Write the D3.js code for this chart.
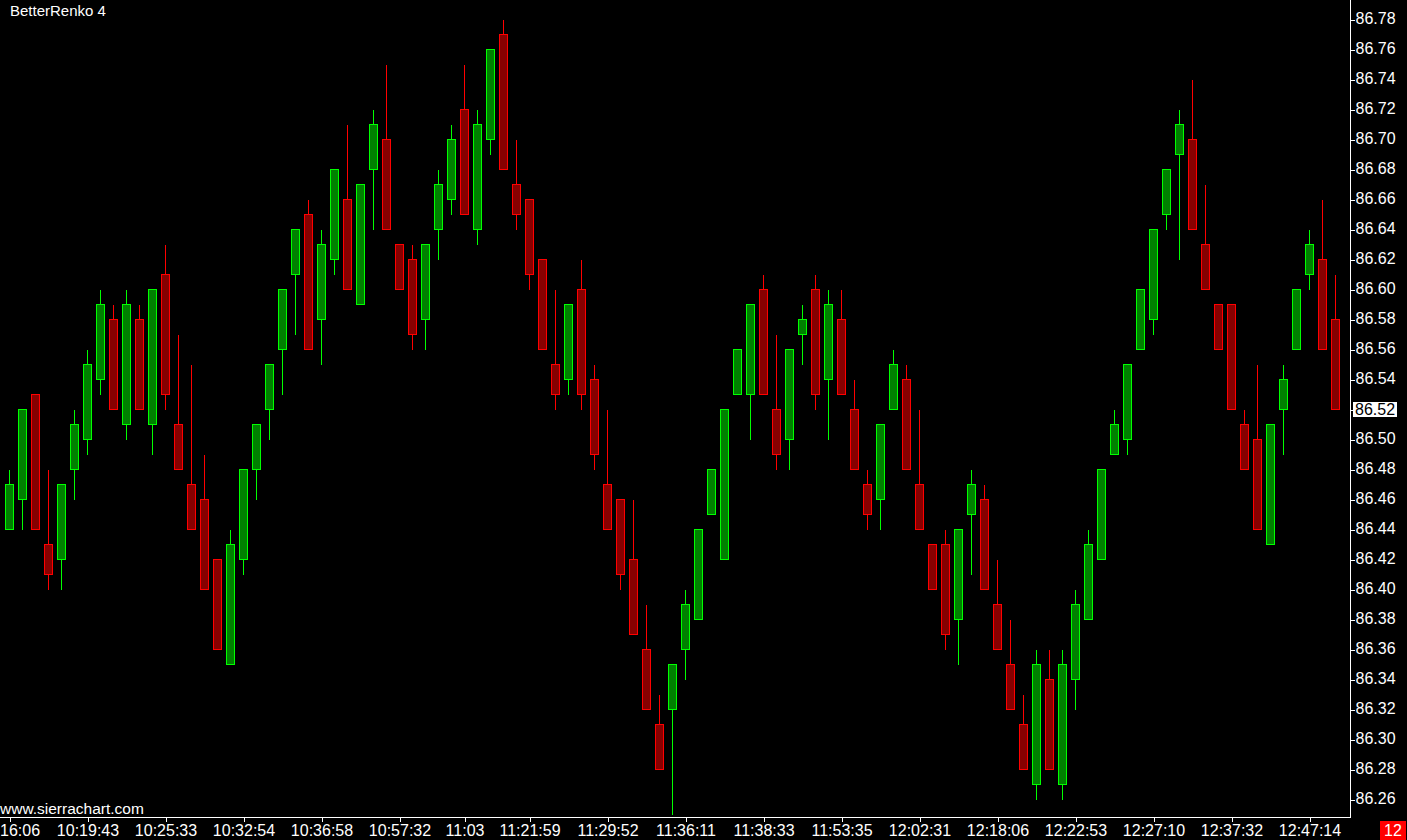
<!DOCTYPE html>
<html>
<head>
<meta charset="utf-8">
<script src="https://cdn.jsdelivr.net/npm/d3@7/dist/d3.min.js"></script>
<style>
  html, body { margin: 0; padding: 0; background: #000; }
  svg { display: block; }
  text { font-family: "Liberation Sans", Arial, sans-serif; }
</style>
</head>
<body>
<svg id="chart" width="1407" height="840"></svg>
<script>
const chartTitle = "BetterRenko 4";
const watermark = "www.sierrachart.com";
const barCounter = "12";

const openPrices = [
  86.44, 86.46, 86.53, 86.43, 86.42, 86.48, 86.50, 86.54, 86.58, 86.51,
  86.58, 86.51, 86.61, 86.51, 86.47, 86.46, 86.42, 86.35, 86.42, 86.48,
  86.52, 86.56, 86.61, 86.65, 86.58, 86.62, 86.66, 86.59, 86.68, 86.70,
  86.63, 86.62, 86.58, 86.64, 86.66, 86.72, 86.64, 86.70, 86.77, 86.67,
  86.66, 86.62, 86.55, 86.54, 86.60, 86.54, 86.47, 86.46, 86.42, 86.36,
  86.31, 86.32, 86.36, 86.38, 86.45, 86.42, 86.53, 86.53, 86.60, 86.52,
  86.50, 86.57, 86.60, 86.54, 86.58, 86.52, 86.47, 86.46, 86.52, 86.54,
  86.47, 86.43, 86.43, 86.38, 86.45, 86.46, 86.39, 86.35, 86.31, 86.27,
  86.34, 86.27, 86.34, 86.38, 86.42, 86.49, 86.50, 86.56, 86.58, 86.65,
  86.69, 86.70, 86.63, 86.59, 86.59, 86.51, 86.50, 86.43, 86.52, 86.56,
  86.61, 86.62, 86.58
];
const highPrices = [
  86.48, 86.52, 86.53, 86.48, 86.47, 86.52, 86.56, 86.60, 86.59, 86.60,
  86.59, 86.60, 86.63, 86.57, 86.55, 86.49, 86.42, 86.44, 86.48, 86.51,
  86.55, 86.60, 86.64, 86.66, 86.64, 86.68, 86.71, 86.67, 86.72, 86.75,
  86.63, 86.63, 86.63, 86.68, 86.71, 86.75, 86.72, 86.76, 86.78, 86.70,
  86.66, 86.62, 86.60, 86.59, 86.62, 86.55, 86.52, 86.46, 86.46, 86.39,
  86.33, 86.35, 86.40, 86.44, 86.48, 86.52, 86.56, 86.59, 86.61, 86.57,
  86.56, 86.59, 86.61, 86.60, 86.60, 86.54, 86.48, 86.51, 86.56, 86.55,
  86.52, 86.43, 86.44, 86.44, 86.48, 86.47, 86.42, 86.38, 86.33, 86.36,
  86.36, 86.36, 86.40, 86.44, 86.48, 86.52, 86.55, 86.60, 86.64, 86.68,
  86.72, 86.74, 86.67, 86.59, 86.59, 86.52, 86.55, 86.51, 86.55, 86.60,
  86.64, 86.66, 86.61
];
const lowPrices = [
  86.44, 86.44, 86.44, 86.40, 86.40, 86.46, 86.49, 86.53, 86.52, 86.50,
  86.52, 86.49, 86.52, 86.48, 86.44, 86.40, 86.36, 86.35, 86.41, 86.46,
  86.50, 86.53, 86.57, 86.56, 86.55, 86.61, 86.60, 86.59, 86.64, 86.64,
  86.60, 86.56, 86.56, 86.62, 86.65, 86.65, 86.63, 86.69, 86.68, 86.64,
  86.60, 86.56, 86.52, 86.53, 86.52, 86.48, 86.44, 86.40, 86.37, 86.32,
  86.28, 86.25, 86.34, 86.38, 86.45, 86.42, 86.53, 86.50, 86.53, 86.48,
  86.48, 86.55, 86.52, 86.50, 86.53, 86.48, 86.44, 86.44, 86.52, 86.48,
  86.44, 86.40, 86.36, 86.35, 86.41, 86.40, 86.36, 86.32, 86.28, 86.26,
  86.28, 86.26, 86.32, 86.38, 86.42, 86.49, 86.49, 86.56, 86.57, 86.64,
  86.62, 86.64, 86.60, 86.56, 86.52, 86.48, 86.44, 86.43, 86.49, 86.56,
  86.60, 86.56, 86.52
];
const closePrices = [
  86.47, 86.52, 86.44, 86.41, 86.47, 86.51, 86.55, 86.59, 86.52, 86.59,
  86.52, 86.60, 86.53, 86.48, 86.44, 86.40, 86.36, 86.43, 86.48, 86.51,
  86.55, 86.60, 86.64, 86.56, 86.63, 86.68, 86.60, 86.67, 86.71, 86.64,
  86.60, 86.57, 86.63, 86.67, 86.70, 86.65, 86.71, 86.76, 86.68, 86.65,
  86.61, 86.56, 86.53, 86.59, 86.53, 86.49, 86.44, 86.41, 86.37, 86.32,
  86.28, 86.35, 86.39, 86.44, 86.48, 86.52, 86.56, 86.59, 86.53, 86.49,
  86.56, 86.58, 86.53, 86.59, 86.53, 86.48, 86.45, 86.51, 86.55, 86.48,
  86.44, 86.40, 86.37, 86.44, 86.47, 86.40, 86.36, 86.32, 86.28, 86.35,
  86.28, 86.35, 86.39, 86.43, 86.48, 86.51, 86.55, 86.60, 86.64, 86.68,
  86.71, 86.64, 86.60, 86.56, 86.52, 86.48, 86.44, 86.51, 86.54, 86.60,
  86.63, 86.56, 86.52
];

const timeTickIndex = [0, 6, 12, 18, 24, 30, 35, 40, 46, 52, 58, 64, 70, 76, 82, 88, 94, 100];
const timeTickLabels = ["16:06", "10:19:43", "10:25:33", "10:32:54", "10:36:58", "10:57:32", "11:03",
  "11:21:59", "11:29:52", "11:36:11", "11:38:33", "11:53:35", "12:02:31", "12:18:06",
  "12:22:53", "12:27:10", "12:37:32", "12:47:14"];
const priceTicks = [86.78, 86.76, 86.74, 86.72, 86.70, 86.68, 86.66, 86.64, 86.62, 86.60,
  86.58, 86.56, 86.54, 86.52, 86.50, 86.48, 86.46, 86.44, 86.42, 86.40,
  86.38, 86.36, 86.34, 86.32, 86.30, 86.28, 86.26];

const bars = openPrices.map((o, i) => ({
  i, o, h: highPrices[i], l: lowPrices[i], c: closePrices[i]
}));
const lastPrice = closePrices[closePrices.length - 1];

const svg = d3.select("#chart");
const W = 1407, H = 840;
const plotRight = 1350.5, plotBottom = 817.5;

svg.append("rect").attr("x", 0).attr("y", 0).attr("width", W).attr("height", H).attr("fill", "#000");

const x = d3.scaleLinear().domain([0, bars.length - 1]).range([9.5, 9.5 + 13 * (bars.length - 1)]);
const y = d3.scaleLinear().domain([86.78, 86.26]).range([19.5, 799.5]);

const bodyW = 8;
const up = d => d.c >= d.o;

const g = svg.append("g");
// wicks
g.selectAll("line.wick").data(bars).join("line")
  .attr("class", "wick")
  .attr("x1", d => x(d.i)).attr("x2", d => x(d.i))
  .attr("y1", d => y(d.h)).attr("y2", d => y(d.l))
  .attr("stroke", d => up(d) ? "#00ff00" : "#ff0000")
  .attr("stroke-width", 1)
  .attr("shape-rendering", "crispEdges");
// bodies
g.selectAll("rect.body").data(bars).join("rect")
  .attr("class", "body")
  .attr("x", d => x(d.i) - bodyW / 2)
  .attr("width", bodyW)
  .attr("y", d => y(Math.max(d.o, d.c)))
  .attr("height", d => Math.max(1, y(Math.min(d.o, d.c)) - y(Math.max(d.o, d.c))))
  .attr("fill", d => up(d) ? "#008000" : "#870000")
  .attr("stroke", d => up(d) ? "#00ff00" : "#ff0000")
  .attr("stroke-width", 1)
  .attr("shape-rendering", "crispEdges");

// axis lines
svg.append("line").attr("x1", plotRight).attr("x2", plotRight).attr("y1", 0).attr("y2", plotBottom)
  .attr("stroke", "#fff").attr("stroke-width", 1).attr("shape-rendering", "crispEdges");
svg.append("line").attr("x1", 0).attr("x2", plotRight).attr("y1", plotBottom).attr("y2", plotBottom)
  .attr("stroke", "#fff").attr("stroke-width", 1).attr("shape-rendering", "crispEdges");

// price axis
const yAxis = d3.axisRight(y).tickValues(priceTicks).tickFormat(d3.format(".2f")).tickSize(4).tickPadding(1);
const ya = svg.append("g").attr("transform", `translate(${plotRight},0)`).call(yAxis);
ya.select(".domain").remove();
ya.selectAll(".tick line").attr("stroke", "#fff").attr("shape-rendering", "crispEdges");
ya.selectAll(".tick text").attr("fill", "#fff").attr("font-size", 16)
  .attr("font-family", "'Liberation Sans', Arial, sans-serif").attr("dy", "0.24em");

// current price marker
const cp = svg.append("g").attr("transform", `translate(0,${y(lastPrice)})`);
cp.append("rect").attr("x", 1353).attr("y", -7.5).attr("width", 44).attr("height", 15).attr("fill", "#fff");
cp.append("text").attr("x", 1355).attr("y", 5.5).attr("fill", "#000").attr("font-size", 16)
  .text(d3.format(".2f")(lastPrice));

// time axis
const xAxis = d3.axisBottom(x).tickValues(timeTickIndex)
  .tickFormat((d, k) => timeTickLabels[k]).tickSize(4).tickPadding(3);
const xa = svg.append("g").attr("transform", `translate(0,${plotBottom})`).call(xAxis);
xa.select(".domain").remove();
xa.selectAll(".tick line").attr("stroke", "#fff").attr("shape-rendering", "crispEdges");
xa.selectAll(".tick text").attr("fill", "#fff").attr("font-size", 16)
  .attr("font-family", "'Liberation Sans', Arial, sans-serif");
// keep first label inside the window
xa.selectAll(".tick text").each(function() {
  const t = d3.select(this);
  const bb = this.getBBox();
  const tx = x(0);
  const parentX = +d3.select(this.parentNode).attr("transform").match(/translate\(([-\d.]+)/)[1];
  if (parentX - bb.width / 2 < 0) {
    t.attr("text-anchor", "start").attr("x", -parentX);
  }
});

// title and watermark
svg.append("text").attr("x", 10).attr("y", 16).attr("fill", "#fff").attr("font-size", 15).text(chartTitle);
svg.append("text").attr("x", 0).attr("y", 814).attr("fill", "#fff").attr("font-size", 15.5).text(watermark);

// bar counter box
svg.append("rect").attr("x", 1380).attr("y", 821).attr("width", 26).attr("height", 19).attr("fill", "#ff0000");
svg.append("text").attr("x", 1393).attr("y", 836).attr("text-anchor", "middle").attr("fill", "#fff")
  .attr("font-size", 16).text(barCounter);
</script>
</body>
</html>
